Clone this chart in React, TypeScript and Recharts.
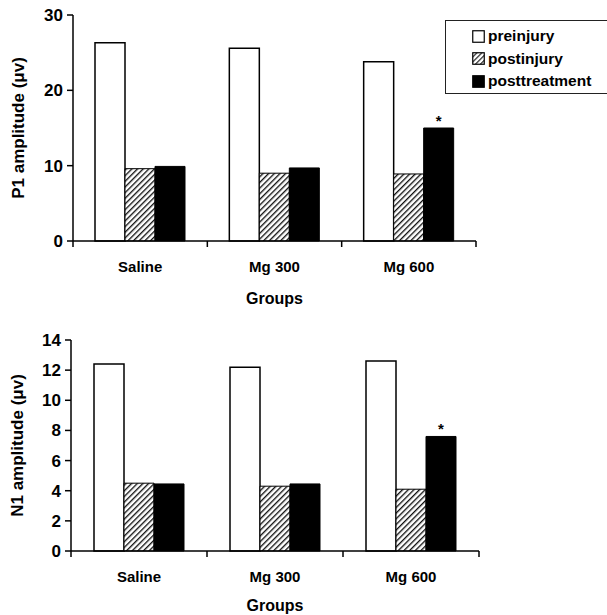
import React from 'react';
import { BarChart, Bar, XAxis, YAxis, Legend, LabelList } from 'recharts';

const categories = ['Saline', 'Mg 300', 'Mg 600'];
const p1Pre = [26.3, 25.6, 23.8];
const p1Post = [9.6, 9.0, 8.9];
const p1Treat = [9.9, 9.7, 15.0];
const p1Ticks = [0, 10, 20, 30];
const n1Pre = [12.4, 12.2, 12.6];
const n1Post = [4.5, 4.3, 4.1];
const n1Treat = [4.45, 4.45, 7.6];
const n1Ticks = [0, 2, 4, 6, 8, 10, 12, 14];
const sigMarks = ['', '', '*'];
const seriesNames = ['preinjury', 'postinjury', 'posttreatment'];

const FONT = '"Liberation Sans", Arial, Helvetica, sans-serif';

const p1Data = categories.map((g, i) => ({ group: g, pre: p1Pre[i], post: p1Post[i], treat: p1Treat[i], sig: sigMarks[i] }));
const n1Data = categories.map((g, i) => ({ group: g, pre: n1Pre[i], post: n1Post[i], treat: n1Treat[i], sig: sigMarks[i] }));

const CategoryTick = (props: any) => {
  const { x, y, payload, index, visibleTicksCount } = props;
  const off = payload && typeof payload.offset === 'number' ? payload.offset : 67;
  const last = index === (visibleTicksCount ?? 3) - 1;
  return (
    <g>
      <line x1={x - off} y1={y} x2={x - off} y2={y + 6} stroke="#000" strokeWidth={1.5} />
      {last && <line x1={x + off} y1={y} x2={x + off} y2={y + 6} stroke="#000" strokeWidth={1.5} />}
      <text x={x} y={y + 31} textAnchor="middle" fontFamily={FONT} fontWeight="bold" fontSize={15} fill="#000">
        {payload.value}
      </text>
    </g>
  );
};

const Star = (props: any) => {
  const { x, y, width, value } = props;
  if (!value) return null;
  return (
    <text x={x + width / 2} y={y - 2} textAnchor="middle" fontFamily={FONT} fontWeight="bold" fontSize={15} fill="#000">
      {value}
    </text>
  );
};

const Hatch = ({ id }: { id: string }) => (
  <defs>
    <pattern id={id} width={4} height={4} patternUnits="userSpaceOnUse" patternTransform="rotate(45)">
      <rect width={4} height={4} fill="#fff" />
      <line x1={0} y1={0} x2={0} y2={4} stroke="#111" strokeWidth={2.7} />
    </pattern>
  </defs>
);

const LegendBox = (props: any) => {
  const payload = [...(props.payload || [])].sort(
    (a: any, b: any) => seriesNames.indexOf(a.value) - seriesNames.indexOf(b.value)
  );
  return (
    <div
      style={{
        border: '1.5px solid #222',
        background: '#fff',
        width: 170,
        height: 74,
        boxSizing: 'border-box',
        paddingLeft: 26,
        paddingTop: 4,
        fontFamily: FONT,
        fontWeight: 'bold',
        fontSize: 15.5,
        color: '#000',
      }}
    >
      {payload.map((entry: any, i: number) => (
        <div key={i} style={{ display: 'flex', alignItems: 'center', height: 22.5 }}>
          <svg width={13} height={13} style={{ marginRight: 3 }}>
            <defs>
              <pattern id={'lg-hatch-' + i} width={3.5} height={3.5} patternUnits="userSpaceOnUse" patternTransform="rotate(45)">
                <rect width={3.5} height={3.5} fill="#fff" />
                <line x1={0} y1={0} x2={0} y2={3.5} stroke="#111" strokeWidth={2.2} />
              </pattern>
            </defs>
            <rect
              x={0.75}
              y={0.75}
              width={11.5}
              height={11.5}
              fill={entry.dataKey === 'pre' ? '#fff' : entry.dataKey === 'post' ? 'url(#lg-hatch-' + i + ')' : '#000'}
              stroke="#000"
              strokeWidth={1.2}
            />
          </svg>
          <span>{entry.value}</span>
        </div>
      ))}
    </div>
  );
};

const tickStyle = { fontFamily: FONT, fontWeight: 'bold', fontSize: 17, fill: '#000' } as any;

export default function App() {
  return (
    <div style={{ position: 'absolute', left: 0, top: 0, width: 607, height: 615, overflow: 'hidden', background: '#fff' }}>
      <div style={{ position: 'absolute', left: 0, top: 0 }}>
        <BarChart width={607} height={315} data={p1Data} margin={{ top: 15, right: 131, left: 0, bottom: 4 }} barGap={0}>
          <Hatch id="hatch-p1" />
          <XAxis
            dataKey="group"
            height={70}
            tickLine={false}
            tickSize={0}
            tickMargin={0}
            axisLine={{ stroke: '#000', strokeWidth: 1.5 }}
            tick={<CategoryTick />}
            interval={0}
            label={{ value: 'Groups', position: 'insideBottom', offset: 7, fontFamily: FONT, fontWeight: 'bold', fontSize: 16, fill: '#000' }}
          />
          <YAxis
            width={73}
            domain={[0, 30]}
            ticks={p1Ticks}
            tickSize={6}
            tickMargin={4}
            axisLine={{ stroke: '#000', strokeWidth: 1.5 }}
            tickLine={{ stroke: '#000', strokeWidth: 1.5 }}
            tick={tickStyle}
            label={{ value: 'P1 amplitude (μv)', angle: -90, position: 'center', dx: -18.5, fontFamily: FONT, fontWeight: 'bold', fontSize: 17, fill: '#000' }}
          />
          <Legend
            layout="vertical"
            align="center"
            verticalAlign="middle"
            content={<LegendBox />}
            wrapperStyle={{ position: 'absolute', left: 445, top: 20, width: 170 }}
          />
          <Bar dataKey="pre" name={seriesNames[0]} barSize={30} fill="#fff" stroke="#000" strokeWidth={1.5} isAnimationActive={false} />
          <Bar dataKey="post" name={seriesNames[1]} barSize={30} fill="url(#hatch-p1)" stroke="#000" strokeWidth={1} isAnimationActive={false} />
          <Bar dataKey="treat" name={seriesNames[2]} barSize={30} fill="#000" stroke="#000" strokeWidth={1} isAnimationActive={false}>
            <LabelList dataKey="sig" content={<Star />} />
          </Bar>
        </BarChart>
      </div>
      <div style={{ position: 'absolute', left: 0, top: 320 }}>
        <BarChart width={607} height={295} data={n1Data} margin={{ top: 20, right: 128, left: 0, bottom: 2 }} barGap={0}>
          <Hatch id="hatch-n1" />
          <XAxis
            dataKey="group"
            height={62}
            tickLine={false}
            tickSize={0}
            tickMargin={0}
            axisLine={{ stroke: '#000', strokeWidth: 1.5 }}
            tick={<CategoryTick />}
            interval={0}
            label={{ value: 'Groups', position: 'insideBottom', offset: 2, fontFamily: FONT, fontWeight: 'bold', fontSize: 16, fill: '#000' }}
          />
          <YAxis
            width={71}
            domain={[0, 14]}
            ticks={n1Ticks}
            tickSize={6}
            tickMargin={4}
            axisLine={{ stroke: '#000', strokeWidth: 1.5 }}
            tickLine={{ stroke: '#000', strokeWidth: 1.5 }}
            tick={tickStyle}
            label={{ value: 'N1 amplitude (μv)', angle: -90, position: 'center', dx: -18.5, fontFamily: FONT, fontWeight: 'bold', fontSize: 17, fill: '#000' }}
          />
          <Bar dataKey="pre" name={seriesNames[0]} barSize={30} fill="#fff" stroke="#000" strokeWidth={1.5} isAnimationActive={false} />
          <Bar dataKey="post" name={seriesNames[1]} barSize={30} fill="url(#hatch-n1)" stroke="#000" strokeWidth={1} isAnimationActive={false} />
          <Bar dataKey="treat" name={seriesNames[2]} barSize={30} fill="#000" stroke="#000" strokeWidth={1} isAnimationActive={false}>
            <LabelList dataKey="sig" content={<Star />} />
          </Bar>
        </BarChart>
      </div>
    </div>
  );
}
